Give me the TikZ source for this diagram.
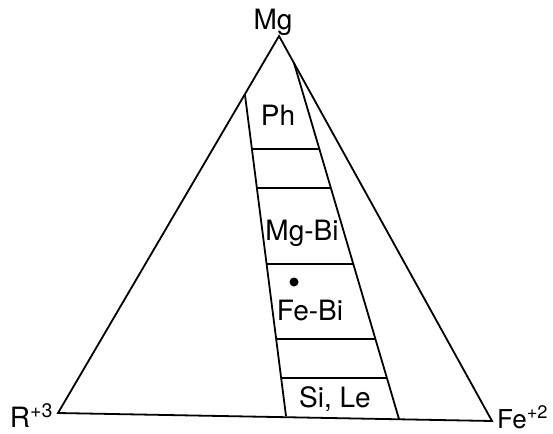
\documentclass[tikz,border=0pt]{standalone}
\usepackage{fontspec}
\setmainfont{TeX Gyre Heros}
\begin{document}
\begin{tikzpicture}[x=1pt,y=-1pt,line width=1.8pt,
	lbl/.style={inner sep=0pt,anchor=base,font=\fontsize{28}{32}\selectfont}]
	\useasboundingbox(0,0)rectangle(553,433);
	% triangle corners
	\coordinate(Mg)at(279,36);
	\coordinate(R)at(58,413);
	\coordinate(Fe)at(492,421);
	\draw(Mg)--(R)--(Fe)--cycle;
	% band
	\coordinate(bl)at(245,95);
	\coordinate(br)at(294,63);
	\draw(bl)--(286,416);
	\draw(br)--(399,419);
	\foreach \y/\xl/\xr in {149/252/318.5,188/257/330,264/266.6/353,339/276.2/375.5,378/281.1/387}
		\draw(\xl,\y)--(\xr,\y);
	\fill(294,282)circle(4.5);
	\node[lbl](lMg)at(273,30){Mg};
	\node[lbl,anchor=base west,text depth=0pt](lR)at(9,427){R\textsuperscript{+3}};
	\node[lbl,anchor=base east,text depth=0pt,font=\fontsize{26}{30}\selectfont](lFe)at(549,428){Fe\textsuperscript{+2}};
	\node[lbl](lPh)at(278,125){Ph};
	\node[lbl](lMgBi)at(302,240){Mg-Bi};
	\node[lbl](lFeBi)at(310,320){Fe-Bi};
	\node[lbl](lSiLe)at(335,407){Si, Le};
\end{tikzpicture}
\end{document}
